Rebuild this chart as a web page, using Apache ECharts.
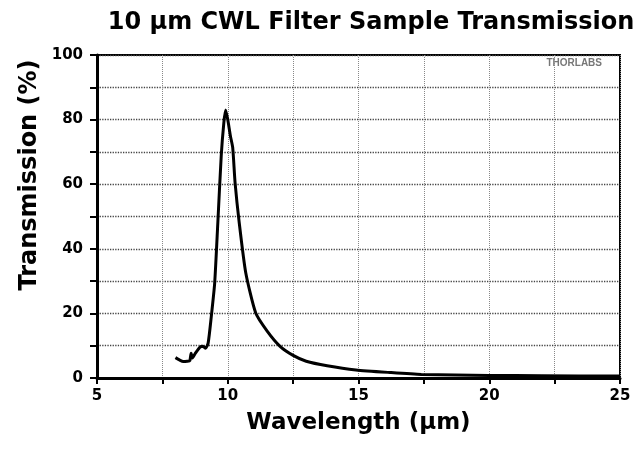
<!DOCTYPE html>
<html>
<head>
<meta charset="utf-8">
<script src="https://cdn.jsdelivr.net/npm/echarts@6/dist/echarts.min.js"></script>
<style>
html,body{margin:0;padding:0;background:#fff;}
#chart{width:644px;height:450px;}
</style>
</head>
<body>
<div id="chart"></div>
<script>
const titleText = "10 µm CWL Filter Sample Transmission";
const xAxisTitle = "Wavelength (µm)";
const yAxisTitle = "Transmission (%)";
const watermark = "THORLABS";
const xTicks = [5, 10, 15, 20, 25];
const yTicks = [0, 20, 40, 60, 80, 100];
const wavelength = [8.0, 8.15, 8.3, 8.45, 8.55, 8.6, 8.65, 8.75, 8.93, 9.05, 9.15, 9.25, 9.37, 9.5, 9.62, 9.75, 9.85, 9.92, 10.0, 10.1, 10.19, 10.28, 10.44, 10.69, 11.07, 11.5, 12.0, 12.5, 13.0, 13.8, 14.9, 16.2, 17.4, 20, 22, 25];
const transmission = [6.3, 5.6, 5.1, 5.2, 5.4, 7.7, 6.2, 7.5, 9.5, 9.8, 9.2, 10.8, 19, 29.4, 48, 68.7, 79, 83, 80, 75, 71.3, 60.5, 48, 32.5, 20.1, 14.6, 9.8, 7.0, 5.2, 3.8, 2.5, 1.7, 1.1, 0.8, 0.7, 0.6];

const chart = echarts.init(document.getElementById('chart'), null, {renderer:'canvas'});
const font = '"DejaVu Sans", sans-serif';
chart.setOption({
  animation:false,
  backgroundColor:'#fff',
  title:{text:titleText, left:366, textAlign:'center', top:6,
    textStyle:{fontFamily:font, fontWeight:'bold', fontSize:24, color:'#000'}},
  grid:{left:97, right:24, top:55, bottom:72, show:true, borderColor:'#000', borderWidth:2, backgroundColor:'transparent'},
  xAxis:{type:'value', min:5, max:25, interval:2.5,
    name:xAxisTitle, nameLocation:'middle', nameGap:34,
    nameTextStyle:{fontFamily:font, fontWeight:'bold', fontSize:23, color:'#000'},
    axisLine:{show:true, onZero:false, lineStyle:{color:'#000', width:3}},
    axisTick:{show:true, inside:false, length:6, lineStyle:{color:'#000', width:2}},
    axisLabel:{fontFamily:font, fontWeight:'bold', fontSize:15, color:'#000', margin:11,
      formatter:v=> xTicks.indexOf(v)>=0 ? String(v) : ''},
    splitLine:{show:true, lineStyle:{color:'#888', type:'dotted', width:1}}},
  yAxis:{type:'value', min:0, max:100, interval:10,
    axisLine:{show:true, onZero:false, lineStyle:{color:'#000', width:3}},
    axisTick:{show:true, inside:false, length:7, lineStyle:{color:'#000', width:2}},
    axisLabel:{fontFamily:font, fontWeight:'bold', fontSize:15, color:'#000', margin:14,
      formatter:v=> yTicks.indexOf(v)>=0 ? String(v) : ''},
    splitLine:{show:true, lineStyle:{color:'#444', type:'dotted', width:1.3}}},
  graphic:[
    {type:'text', x:30, y:175, rotation:Math.PI/2,
      style:{text:yAxisTitle, fontFamily:font, fontWeight:'bold', fontSize:24, fill:'#000', align:'center', verticalAlign:'middle'}},
    {type:'text', right:42, top:58, style:{text:watermark, fontFamily:'"Liberation Sans", Arial, sans-serif', fontWeight:'bold', fontSize:10, fill:'#777'}}
  ],
  series:[{type:'line', data:wavelength.map((x,i)=>[x, transmission[i]]),
    showSymbol:false, smooth:0.2, lineStyle:{color:'#000', width:3}}]
});
</script>
</body>
</html>
